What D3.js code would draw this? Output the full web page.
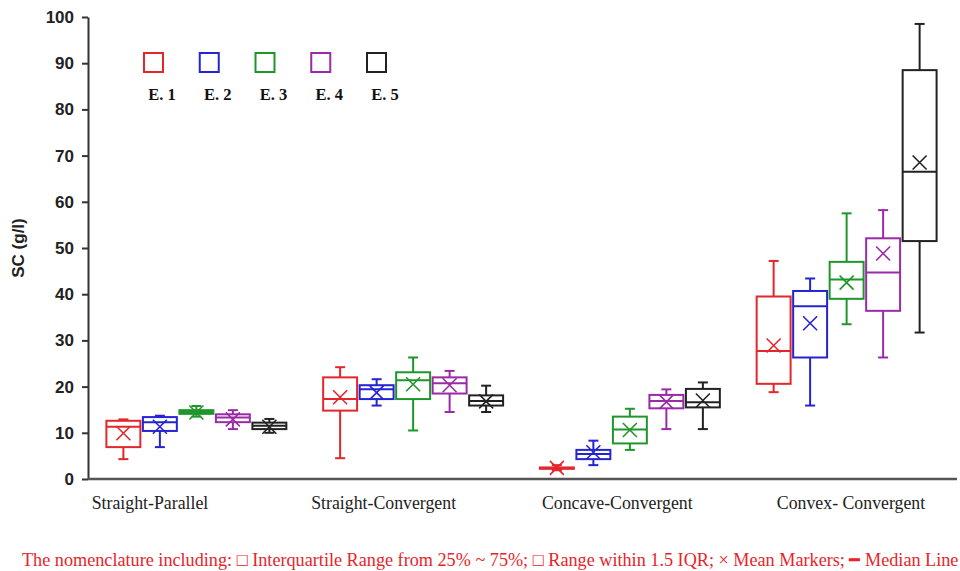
<!DOCTYPE html>
<html>
<head>
<meta charset="utf-8">
<script src="https://cdn.jsdelivr.net/npm/d3@7"></script>
<style>
  html, body { margin: 0; padding: 0; background: #fff; overflow: hidden; }
  svg { display: block; }
</style>
</head>
<body>
<script>
// Slope forms on the x axis, experiments as coloured boxes
const categories = ["Straight-Parallel", "Straight-Convergent", "Concave-Convergent", "Convex- Convergent"];
const seriesNames = ["E. 1", "E. 2", "E. 3", "E. 4", "E. 5"];
const seriesColors = ["#e3262b", "#2424d2", "#1f962a", "#9a2ba6", "#222222"];
const yTicks = [0, 10, 20, 30, 40, 50, 60, 70, 80, 90, 100];

// Box statistics, one row per category, one column per experiment (SC, g/l)
const whiskerLow = [
  [4.3, 6.9, 13.5, 10.8, 10.0],
  [4.5, 15.9, 10.5, 14.5, 14.5],
  [1.9, 3.0, 6.3, 10.8, 10.8],
  [18.8, 15.9, 33.5, 26.3, 31.7]
];
const quartile1 = [
  [6.9, 10.4, 14.1, 12.3, 10.8],
  [14.8, 17.3, 17.3, 18.5, 15.9],
  [2.2, 4.3, 7.7, 15.3, 15.5],
  [20.6, 26.3, 39.0, 36.4, 51.5]
];
const medians = [
  [11.3, 12.3, 14.5, 13.3, 11.5],
  [17.3, 19.4, 21.4, 20.7, 16.9],
  [2.4, 5.4, 10.7, 16.9, 16.6],
  [27.7, 37.4, 43.2, 44.7, 66.5]
];
const quartile3 = [
  [12.6, 13.4, 14.9, 14.0, 12.2],
  [22.0, 20.3, 23.1, 22.0, 18.1],
  [2.5, 6.3, 13.5, 18.2, 19.5],
  [39.5, 40.7, 47.0, 52.1, 88.5]
];
const whiskerHigh = [
  [12.9, 13.7, 15.8, 14.9, 13.0],
  [24.2, 21.6, 26.3, 23.4, 20.2],
  [3.0, 8.3, 15.2, 19.4, 20.9],
  [47.2, 43.4, 57.5, 58.2, 98.5]
];
const means = [
  [9.9, 11.3, 14.4, 12.9, 11.3],
  [17.7, 18.7, 20.5, 20.3, 16.8],
  [2.4, 5.8, 10.6, 16.7, 17.0],
  [28.9, 33.7, 42.5, 48.8, 68.5]
];

const caption = "The nomenclature including: \u25A1 Interquartile Range from 25% ~ 75%; \u25A1 Range within 1.5 IQR; \u00D7 Mean Markers; \u2501 Median Line";

const W = 960, H = 571;
const svg = d3.select("body").append("svg").attr("width", W).attr("height", H);

const y = d3.scaleLinear().domain([0, 100]).range([479, 17]);
const xGroup = d3.scaleBand().domain(categories).range([88, 955]).paddingInner(0).paddingOuter(0);
const xSeries = d3.scaleBand().domain(seriesNames)
  .range([xGroup.bandwidth() / 2 - 91.25, xGroup.bandwidth() / 2 + 91.25])
  .paddingInner(0.07).paddingOuter(0.035);
const xLabel = d3.scalePoint().domain(categories).range([150, 851]);

// Flatten into one record per box
const boxes = [];
categories.forEach((c, i) => {
  seriesNames.forEach((s, j) => {
    boxes.push({
      cat: c, ser: s, color: seriesColors[j],
      lo: whiskerLow[i][j], q1: quartile1[i][j], med: medians[i][j],
      q3: quartile3[i][j], hi: whiskerHigh[i][j], mean: means[i][j]
    });
  });
});

// Y axis
const yAxis = d3.axisLeft(y).tickValues(yTicks).tickSize(6).tickSizeOuter(0);
const gy = svg.append("g").attr("transform", "translate(88,0)").call(yAxis);
gy.select(".domain").attr("stroke", "#333").attr("stroke-width", 2);
gy.selectAll(".tick line").attr("stroke", "#333").attr("stroke-width", 2);
gy.selectAll(".tick text")
  .attr("x", -14)
  .attr("fill", "#222")
  .style("font-family", "'Liberation Sans Narrow', 'Arial Narrow', 'Liberation Sans', Arial, sans-serif")
  .style("font-weight", "bold")
  .style("font-size", "17px");

// X baseline
svg.append("line")
  .attr("x1", 88).attr("x2", 957)
  .attr("y1", y(0)).attr("y2", y(0))
  .attr("stroke", "#555").attr("stroke-width", 2.5);

// Y axis title
svg.append("text")
  .attr("transform", `translate(24,${y(50)}) rotate(-90)`)
  .attr("text-anchor", "middle")
  .attr("fill", "#222")
  .style("font-family", "'Liberation Sans', Arial, sans-serif")
  .style("font-weight", "bold")
  .style("font-size", "17px")
  .text("SC (g/l)");

// Category labels
svg.append("g").selectAll("text").data(categories).join("text")
  .attr("x", d => xLabel(d))
  .attr("y", 509)
  .attr("text-anchor", "middle")
  .attr("fill", "#222")
  .style("font-family", "'Liberation Serif', 'Times New Roman', serif")
  .style("font-size", "17.8px")
  .text(d => d);

// Boxes
const g = svg.append("g").selectAll("g").data(boxes).join("g")
  .attr("transform", d => `translate(${xGroup(d.cat) + xSeries(d.ser)},0)`)
  .attr("stroke", d => d.color)
  .attr("fill", "none");

const bw = xSeries.bandwidth();
const cx = bw / 2;
const cap = 5;

g.append("line")
  .attr("x1", cx).attr("x2", cx)
  .attr("y1", d => y(d.hi)).attr("y2", d => y(d.q3))
  .attr("stroke-width", 2);
g.append("line")
  .attr("x1", cx).attr("x2", cx)
  .attr("y1", d => y(d.q1)).attr("y2", d => y(d.lo))
  .attr("stroke-width", 2);
g.append("line")
  .attr("x1", cx - cap).attr("x2", cx + cap)
  .attr("y1", d => y(d.hi)).attr("y2", d => y(d.hi))
  .attr("stroke-width", 2);
g.append("line")
  .attr("x1", cx - cap).attr("x2", cx + cap)
  .attr("y1", d => y(d.lo)).attr("y2", d => y(d.lo))
  .attr("stroke-width", 2);
g.append("rect")
  .attr("x", 0).attr("width", bw)
  .attr("y", d => y(d.q3))
  .attr("height", d => y(d.q1) - y(d.q3))
  .attr("fill", "#fff")
  .attr("stroke-width", 2);
g.append("line")
  .attr("x1", 0).attr("x2", bw)
  .attr("y1", d => y(d.med)).attr("y2", d => y(d.med))
  .attr("stroke-width", 2);

// Mean markers
const mk = 7;
g.append("path")
  .attr("d", d => {
    const my = y(d.mean);
    return `M${cx - mk},${my - mk}L${cx + mk},${my + mk}M${cx - mk},${my + mk}L${cx + mk},${my - mk}`;
  })
  .attr("stroke-width", 1.6);

// Legend
const legendX = d3.scalePoint().domain(seriesNames).range([144, 367]);
const lg = svg.append("g").selectAll("g").data(seriesNames).join("g")
  .attr("transform", d => `translate(${legendX(d)},53)`);
lg.append("rect")
  .attr("width", 19).attr("height", 19)
  .attr("fill", "none")
  .attr("stroke", (d, i) => seriesColors[i])
  .attr("stroke-width", 2);
lg.append("text")
  .attr("x", 18).attr("y", 47)
  .attr("text-anchor", "middle")
  .attr("fill", "#111")
  .style("font-family", "'Liberation Serif', 'Times New Roman', serif")
  .style("font-weight", "bold")
  .style("font-size", "16.5px")
  .text(d => d);

// Footnote
svg.append("text")
  .attr("x", 22).attr("y", 566)
  .attr("fill", "#e8242a")
  .style("font-family", "'Liberation Serif', 'Times New Roman', serif")
  .style("font-size", "18.2px")
  .text(caption);
</script>
</body>
</html>
